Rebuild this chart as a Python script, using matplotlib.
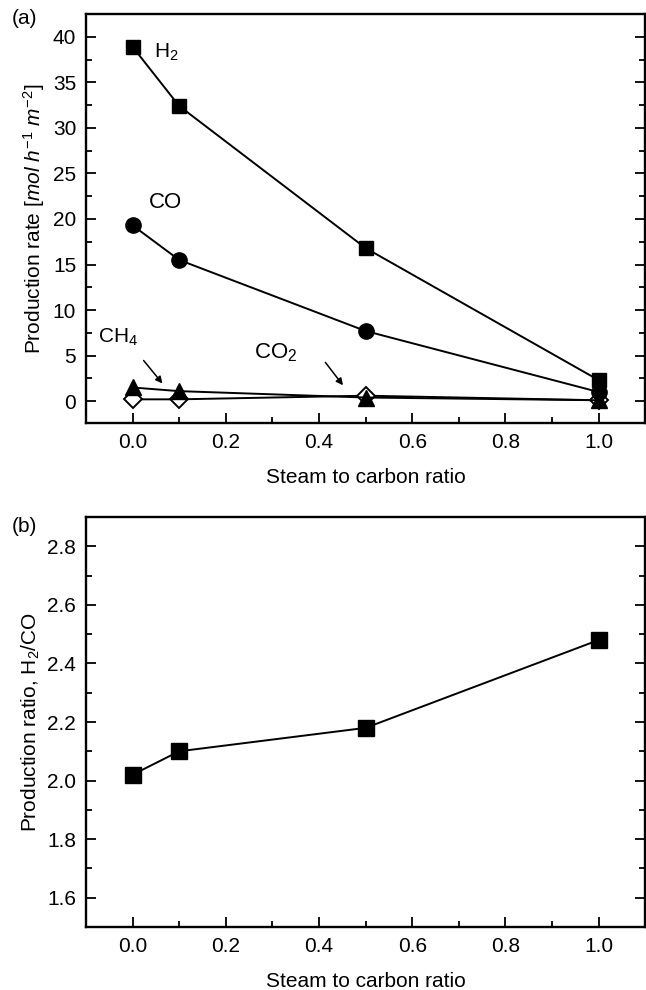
import matplotlib
matplotlib.use('Agg')
import matplotlib.pyplot as plt
from matplotlib.ticker import MultipleLocator

plt.rcParams['font.family'] = ['Liberation Sans', 'DejaVu Sans']
plt.rcParams['font.size'] = 15
plt.rcParams['mathtext.fontset'] = 'custom'
plt.rcParams['mathtext.rm'] = 'Liberation Sans'
plt.rcParams['mathtext.it'] = 'Liberation Sans:italic'

# steam to carbon ratio
sc_ratio = [0.0, 0.1, 0.5, 1.0]

# production rates, mol h-1 m-2
h2_rate = [38.9, 32.4, 16.8, 2.3]
co_rate = [19.3, 15.5, 7.7, 1.0]
ch4_rate = [1.5, 1.1, 0.4, 0.1]
co2_rate = [0.2, 0.2, 0.6, 0.1]

# H2/CO ratio
h2_co = [2.02, 2.10, 2.18, 2.48]

fig = plt.figure(figsize=(6.46, 9.9), dpi=100)
ax1 = fig.add_axes([0.133, 0.5727, 0.866, 0.4132])
ax2 = fig.add_axes([0.133, 0.0636, 0.866, 0.4142])

lw = 1.4
ax1.plot(sc_ratio, co2_rate, 'kD-', ms=9, lw=lw, mfc='white', mew=1.4)
ax1.plot(sc_ratio, ch4_rate, 'k^-', ms=12, lw=lw)
ax1.plot(sc_ratio, co_rate, 'ko-', ms=11, lw=lw)
ax1.plot(sc_ratio, h2_rate, 'ks-', ms=9.5, lw=lw)

ax1.text(0.045, 38.3, 'H$_2$', fontsize=15, va='center')
ax1.text(0.035, 21.8, 'CO', fontsize=16, va='center')
ax1.text(-0.075, 7.0, 'CH$_4$', fontsize=15, va='center')
ax1.text(0.26, 5.3, 'CO$_2$', fontsize=16, va='center')
ax1.annotate('', xy=(0.068, 1.7), xytext=(0.02, 4.7),
             arrowprops=dict(arrowstyle='-|>', color='k', lw=1.1,
                             mutation_scale=10))
ax1.annotate('', xy=(0.455, 1.5), xytext=(0.41, 4.5),
             arrowprops=dict(arrowstyle='-|>', color='k', lw=1.1,
                             mutation_scale=10))

ax1.set_xlim(-0.1, 1.1)
ax1.set_ylim(-2.4, 42.5)
ax1.yaxis.set_major_locator(MultipleLocator(5))
ax1.yaxis.set_minor_locator(MultipleLocator(2.5))
ax1.set_xlabel('Steam to carbon ratio', labelpad=12)
ax1.set_ylabel('Production rate [$\\mathit{mol\\ h^{-1}\\ m^{-2}}$]', labelpad=4)

ax2.plot(sc_ratio, h2_co, 'ks-', ms=12, lw=lw)
ax2.set_xlim(-0.1, 1.1)
ax2.set_ylim(1.5, 2.9)
ax2.yaxis.set_major_locator(MultipleLocator(0.2))
ax2.yaxis.set_minor_locator(MultipleLocator(0.1))
ax2.set_xlabel('Steam to carbon ratio', labelpad=12)
ax2.set_ylabel('Production ratio, H$_2$/CO', labelpad=4)

for ax in (ax1, ax2):
    ax.xaxis.set_major_locator(MultipleLocator(0.2))
    ax.xaxis.set_minor_locator(MultipleLocator(0.1))
    ax.tick_params(which='both', direction='in', right=True, top=False, width=1.3)
    ax.tick_params(which='major', length=7, labelsize=15, pad=7)
    ax.tick_params(which='minor', length=4)
    for s in ax.spines.values():
        s.set_linewidth(1.7)

fig.text(0.018, 0.976, '(a)', fontsize=15)
fig.text(0.018, 0.463, '(b)', fontsize=15)

fig.savefig('out.png', dpi=100)
